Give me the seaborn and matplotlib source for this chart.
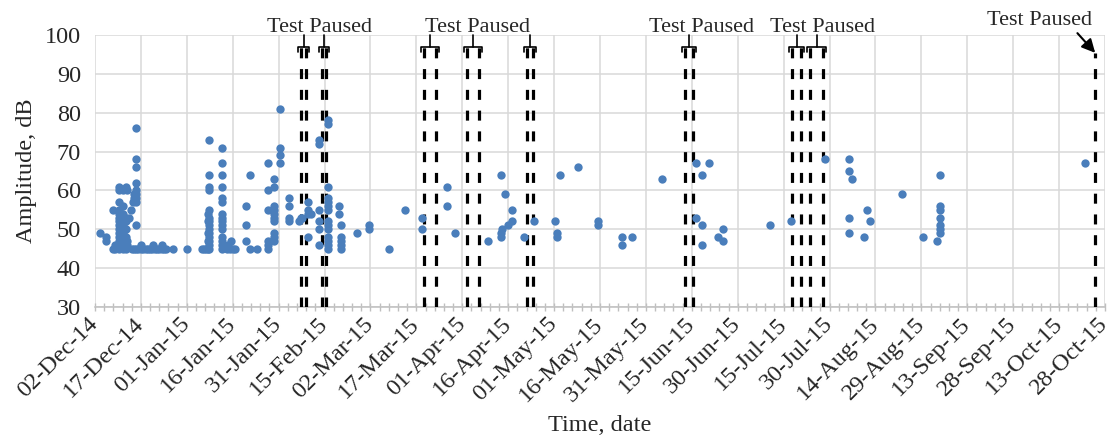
import numpy as np
import pandas as pd
import matplotlib
matplotlib.use("Agg")
import matplotlib.pyplot as plt
import seaborn as sns

# ---------------- data (day offsets from 02-Dec-2014, amplitudes in dB) -------------
START = "2014-12-02"
END = "2015-10-28"

dec_days = [1.6, 3.5, 3.5, 5.9, 5.9, 6.5, 6.5,
            8, 8, 8, 8, 8, 8, 8, 8, 8, 8, 8, 8, 8, 8,
            9, 9, 9, 9, 9, 9, 9, 9, 9, 9, 9, 9,
            10, 10, 10, 10, 10, 10, 10, 10,
            10.6, 10.6, 10.6,
            11.2, 11.8, 12.3, 12.7, 12.9,
            13.4, 13.4, 13.4, 13.4, 13.4, 13.4, 13.4, 13.4, 13.4, 13.4,
            12.0, 12.8, 14.2, 15.0, 15.8, 16.5, 17.3, 18.0, 18.7, 19.5, 20.2,
            21.0, 21.8, 22.5, 23.2, 15.0, 19.0, 22.0,
            25.4, 30.1]
dec_amps = [49, 48, 47, 55, 45, 45, 46,
            61, 60, 57, 55, 54, 53, 52, 51, 50, 49, 48, 47, 46, 45,
            60, 56, 54, 53, 52, 51, 50, 49, 48, 47, 46, 45,
            61, 53, 52, 50, 48, 47, 46, 45,
            60, 47, 46,
            53, 55, 57, 58, 59,
            76, 68, 66, 62, 60, 59, 58, 57, 51, 45,
            45, 45, 45, 45, 45, 45, 45, 45, 45, 45, 45,
            45, 45, 45, 45, 46, 46, 46,
            45, 45]

jan_days = [34.9, 35.5, 36.2, 36.8,
            37.3, 37.3, 37.3, 37.3, 37.3, 37.3, 37.3, 37.3, 37.3, 37.3, 37.3, 37.3, 37.3, 37.3,
            36.8, 36.8, 36.8, 36.8,
            41.6, 41.6, 41.6, 41.6, 41.6, 41.6, 41.6, 41.6, 41.6, 41.6, 41.6, 41.6, 41.6, 41.6, 41.6,
            43.0, 44.0, 45.0, 45.7, 43.5, 44.5,
            49.2, 49.2, 49.2, 50.6, 50.6, 52.8,
            56.4, 56.4, 56.4, 56.4, 56.4, 56.4,
            58.5, 58.5, 58.5, 58.5, 58.5, 58.5, 58.5, 58.5, 58.5, 58.5,
            60.3, 60.3, 60.3, 60.3,
            63.5, 63.5, 63.5, 63.5,
            66.7, 67.2, 67.5]
jan_amps = [45, 45, 45, 45,
            73, 64, 61, 60, 55, 53, 52, 51, 50, 49, 48, 47, 46, 45,
            54, 52, 49, 47,
            71, 67, 64, 61, 58, 57, 54, 53, 52, 51, 50, 48, 47, 46, 45,
            45, 45, 45, 45, 46, 47,
            56, 51, 47, 64, 45, 45,
            67, 60, 55, 47, 45, 46,
            63, 61, 56, 55, 54, 53, 52, 49, 48, 47,
            81, 71, 69, 67,
            58, 56, 53, 52,
            52, 53, 53]

feb_days = [69.7, 69.7, 69.7, 69.7, 70.6,
            73.3, 73.3, 73.3, 73.3, 73.3, 73.3,
            76.2, 76.2, 76.2, 76.2, 76.2, 76.2, 76.2, 76.2, 76.2, 76.2, 76.2, 76.2, 76.2, 76.2,
            79.6, 79.6, 80.3, 80.3, 80.3, 80.3, 80.3,
            85.5, 89.5, 89.5, 96.1, 101.4]
feb_amps = [57, 55, 54, 48, 54,
            73, 72, 55, 52, 50, 46,
            78, 77, 61, 58, 57, 56, 55, 52, 51, 50, 48, 47, 46, 45,
            56, 54, 51, 48, 47, 46, 45,
            49, 51, 50, 45, 55]

late_days = [106.7, 106.7, 114.9, 114.9, 117.6, 128.5,
             132.5, 132.5, 132.5, 133.0, 134.0, 135.0, 136.4, 136.4,
             140.3, 143.5, 150.3, 150.8, 151.0, 151.9, 157.7,
             164.4, 164.4, 172.3, 172.3, 175.3,
             185.1, 196.3, 196.3, 198.4, 198.4, 198.4, 200.7, 203.4, 205.3, 205.3,
             220.7, 227.3, 238.5,
             246.4, 246.4, 246.4, 246.4, 247.4,
             251.2, 252.3, 253.2, 263.8, 270.6,
             275.1, 276.0, 276.0, 276.0, 276.0, 276.0, 276.0, 276.0,
             323.4]
late_amps = [53, 50, 61, 56, 49, 47,
             64, 49, 48, 50, 59, 51, 55, 52,
             48, 52, 52, 49, 48, 64, 66,
             52, 51, 48, 46, 48,
             63, 67, 53, 64, 51, 46, 67, 48, 50, 47,
             51, 52, 68,
             68, 65, 53, 49, 63,
             48, 55, 52, 59, 48,
             47, 64, 56, 55, 53, 51, 50, 49,
             67]

# test-pause intervals (day offsets) and their label groups
pause_start = [67.3, 74.2, 107.5, 121.6, 141.2, 192.8, 227.8, 233.7]
pause_end = [69.0, 75.5, 111.4, 125.5, 143.1, 195.4, 230.7, 237.9]
final_pause = 326.8
label_days = [73.4, 125.0, 198.2, 237.7]
final_label_day = 308.7
label_text = "Test Paused"

# ---------------- build frame ----------------
start = pd.Timestamp(START)
end = pd.Timestamp(END)
days = np.array(dec_days + jan_days + feb_days + late_days, dtype=float)
amps = np.array(dec_amps + jan_amps + feb_amps + late_amps, dtype=float)
df = pd.DataFrame({"date": start + pd.to_timedelta(days, unit="D"), "amp": amps})


def d(x):
    return start + pd.to_timedelta(x, unit="D")


# ---------------- style ----------------
sns.set_style("white")
plt.rcParams["font.family"] = ["Liberation Serif", "DejaVu Serif"]
plt.rcParams["lines.scale_dashes"] = False

fig = plt.figure(figsize=(11.17, 4.4), dpi=100)
ax = fig.add_axes([0.08505, 0.3023, 0.9042, 0.6182])

sns.scatterplot(data=df, x="date", y="amp", ax=ax, color="#4A7EBB",
                s=36, linewidth=0, zorder=4, legend=False)

grid_c = "#D9D9D9"
# pause dashed lines
dash = (0, (7.2, 7.75))
for s_, e_ in zip(pause_start, pause_end):
    for x in (s_, e_):
        ax.plot([d(x), d(x)], [30, 96.9], color="black", lw=2.3,
                linestyle=dash, solid_capstyle="butt", dash_capstyle="butt", zorder=3)
    # bracket
    l, r, m = s_ - 1.0, e_ + 1.0, (s_ + e_) / 2
    ax.plot([d(l), d(l), d(r), d(r)], [95.6, 96.9, 96.9, 95.6], color="black",
            lw=1.2, zorder=3, clip_on=False)
    ax.plot([d(m), d(m)], [96.9, 100], color="black", lw=1.2, zorder=3, clip_on=False)
ax.plot([d(final_pause), d(final_pause)], [30, 95.4], color="black", lw=2.3,
        linestyle=dash, dash_capstyle="butt", zorder=3)

for ld in label_days:
    ax.text(d(ld), 100.8, label_text, ha="center", va="baseline", fontsize=16,
            clip_on=False)
ax.annotate(label_text, xy=(d(final_pause), 95.4), xytext=(d(final_label_day), 102.6),
            ha="center", va="baseline", fontsize=16, annotation_clip=False,
            arrowprops=dict(arrowstyle="-|>", color="black", lw=1.5,
                            mutation_scale=20, relpos=(0.83, 0.0),
                            shrinkA=0, shrinkB=0))

# axes
ax.set_xlim(start, end)
ax.set_ylim(30, 100)
ticks = pd.date_range(start, end, freq="15D")
ax.set_xticks(ticks)
ax.set_xticklabels([t.strftime("%d-%b-%y") for t in ticks], rotation=45,
                   ha="right", va="center", rotation_mode="anchor", fontsize=17.5)
ax.set_xticks(pd.date_range(start, end, freq="3D"), minor=True)
ax.set_yticks(np.arange(30, 101, 10))
ax.set_yticklabels([str(v) for v in range(30, 101, 10)], fontsize=17.5)

ax.grid(True, which="major", color=grid_c, lw=1.1)
ax.set_axisbelow(True)
for sp in ("top", "right", "left"):
    ax.spines[sp].set_visible(False)
ax.spines["bottom"].set_color("#BFBFBF")
ax.spines["bottom"].set_linewidth(1.1)
ax.tick_params(axis="x", which="both", direction="inout", length=6, width=1,
               color="#BFBFBF", pad=7, bottom=True)
ax.tick_params(axis="y", length=0, pad=10)

ax.set_ylabel("Amplitude, dB", fontsize=17.5)
ax.yaxis.set_label_coords(-0.057, 0.5)
ax.set_xlabel("Time, date", fontsize=17.5)
ax.xaxis.set_label_coords(0.5, -0.397)

fig.savefig("out.png", dpi=100)
